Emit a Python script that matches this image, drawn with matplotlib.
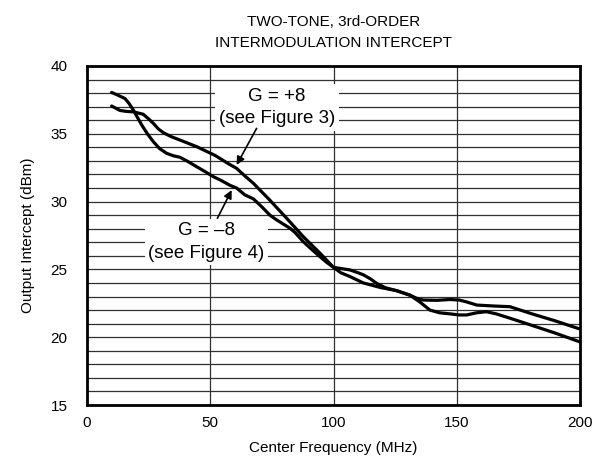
import matplotlib.pyplot as plt

plt.rcParams['font.family'] = ['Liberation Sans', 'DejaVu Sans']

# G = +8 curve
freq_a = [10, 13.4, 16, 18.8, 22.8, 25, 26.9, 29, 31, 34, 37.7, 44.5, 52, 57.3,
          60.7, 64, 67.5, 74.2, 81, 87.7, 94.5, 100, 106.7, 110, 112.1, 115,
          117.5, 121, 125.6, 131, 134, 136.4, 142, 147.3, 151, 154, 158.1, 165,
          171.6, 180, 190, 200]
out_a = [37.05, 36.72, 36.65, 36.62, 36.44, 36.1, 35.77, 35.35, 35.08, 34.8,
         34.54, 34.05, 33.4, 32.8, 32.45, 31.9, 31.35, 30.1, 28.77, 27.42, 26.2,
         25.15, 24.96, 24.75, 24.6, 24.3, 23.97, 23.65, 23.43, 23.1, 22.85,
         22.74, 22.72, 22.78, 22.74, 22.6, 22.37, 22.3, 22.25, 21.75, 21.2, 20.6]

# G = -8 curve
freq_b = [10, 12.5, 15.4, 17, 18.8, 20.5, 22.2, 24.5, 26.9, 29.5, 32.3, 35,
          37.7, 41, 44.5, 48, 51.2, 54, 58, 60.7, 64, 67.5, 71, 74.2, 77, 82.4,
          84.5, 87.7, 91, 94.5, 97, 100, 103, 106.7, 112.1, 118.9, 125.6, 131,
          135, 139.1, 143, 147.3, 151, 154, 158, 162, 166, 171.6, 180, 190, 200]
out_b = [38.05, 37.85, 37.6, 37.25, 36.75, 36.2, 35.65, 35.0, 34.42, 33.9,
         33.56, 33.38, 33.27, 32.95, 32.57, 32.2, 31.84, 31.6, 31.2, 31.0, 30.5,
         30.2, 29.6, 29.0, 28.64, 28.03, 27.7, 27.05, 26.5, 25.94, 25.55, 25.15,
         24.75, 24.47, 24.0, 23.67, 23.43, 23.1, 22.6, 22.0, 21.8, 21.72, 21.64,
         21.64, 21.8, 21.88, 21.72, 21.4, 20.9, 20.3, 19.65]

x_ticks = [0, 50, 100, 150, 200]
y_ticks = [15, 20, 25, 30, 35, 40]

fig = plt.figure(figsize=(6.02, 4.66), dpi=100)
ax = fig.add_axes([0.1445, 0.1309, 0.819, 0.7275])

# grid: every 1 dBm horizontally, 50 MHz vertically
for yv in range(16, 40):
    ax.axhline(yv, color='#303030', lw=0.9, zorder=1)
for xv in [50, 100, 150]:
    ax.axvline(xv, color='#303030', lw=0.9, zorder=1)

ax.plot(freq_a, out_a, color='black', lw=2.3, zorder=3,
        solid_joinstyle='round', solid_capstyle='round')
ax.plot(freq_b, out_b, color='black', lw=2.3, zorder=3,
        solid_joinstyle='round', solid_capstyle='round')

box = dict(facecolor='white', edgecolor='none', pad=2.5)
ax.text(77.1, 36.94, 'G = +8\n(see Figure 3)', ha='center', va='center',
        fontsize=13.5, linespacing=1.42, bbox=box, zorder=4)
ax.text(48.5, 27.02, 'G = \u20138\n(see Figure 4)', ha='center', va='center',
        fontsize=13.5, linespacing=1.45, bbox=box, zorder=4)

ax.annotate('', xy=(60.7, 32.7), xytext=(68.8, 35.4),
            arrowprops=dict(arrowstyle='-|>', color='black', lw=1.2,
                            mutation_scale=12, shrinkA=0, shrinkB=0), zorder=5)
ax.annotate('', xy=(58.7, 30.85), xytext=(52.9, 28.77),
            arrowprops=dict(arrowstyle='-|>', color='black', lw=1.2,
                            mutation_scale=12, shrinkA=0, shrinkB=0), zorder=5)

ax.set_xlim(0, 200)
ax.set_ylim(15, 40)
ax.set_xticks(x_ticks)
ax.set_yticks(y_ticks)
ax.tick_params(length=0, labelsize=11, pad=8)
ax.tick_params(axis='y', pad=14)
for s in ax.spines.values():
    s.set_linewidth(2)
    s.set_zorder(6)

ax.set_xlabel('Center Frequency (MHz)', fontsize=11, labelpad=8)
ax.set_ylabel('Output Intercept (dBm)', fontsize=11, labelpad=11)
ax.set_title('TWO-TONE, 3rd-ORDER\nINTERMODULATION INTERCEPT', fontsize=11,
             linespacing=1.65, pad=13.5)

fig.savefig('out.png', dpi=100)
